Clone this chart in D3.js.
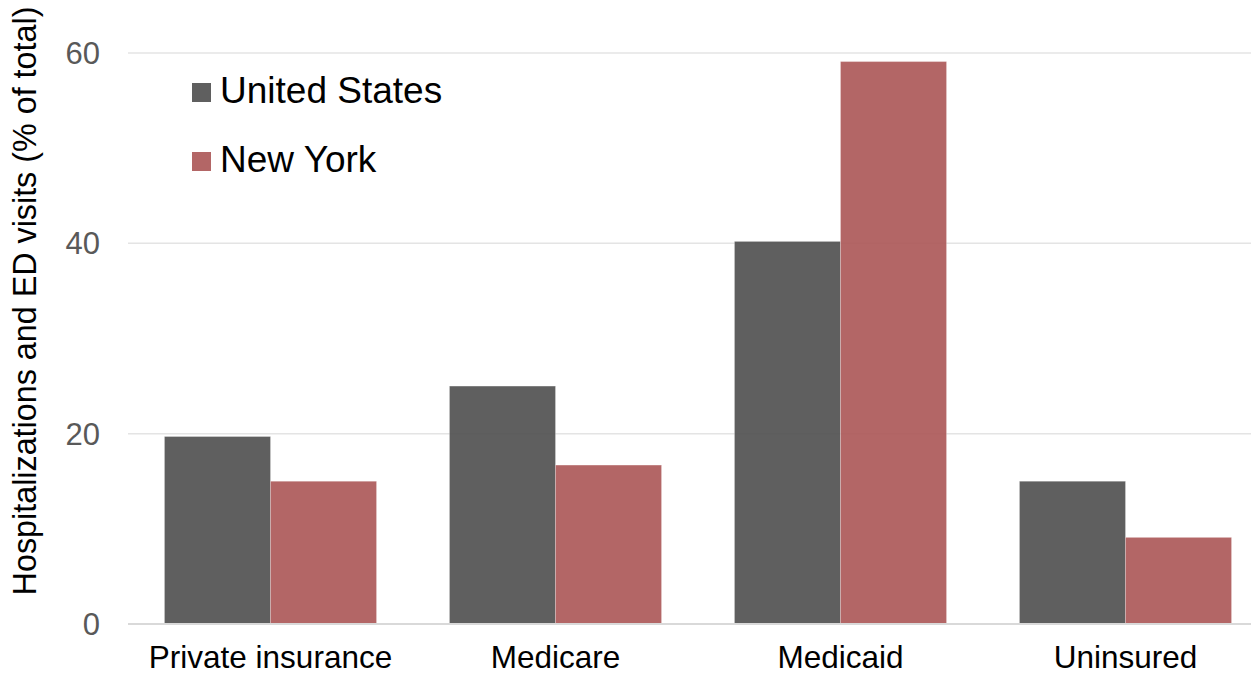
<!DOCTYPE html>
<html>
<head>
<meta charset="utf-8">
<script src="https://cdn.jsdelivr.net/npm/d3@7"></script>
<style>
  body { margin: 0; background: #fff; }
  svg { display: block; font-family: "Liberation Sans", Arial, sans-serif; }
  .grid line { stroke: #e4e4e4; stroke-width: 1.5; }
  .tick-label { fill: #595959; font-size: 31px; }
  .cat-label { fill: #000; font-size: 31.5px; }
  .legend-text { fill: #000; font-size: 37px; }
  .axis-title { fill: #000; font-size: 32.3px; }
</style>
</head>
<body>
<svg id="chart" width="1251" height="675"></svg>
<script>
const categories = ['Private insurance', 'Medicare', 'Medicaid', 'Uninsured'];
const seriesNames = ['United States', 'New York'];
const usValues = [19.7, 25.0, 40.2, 15.0];
const nyValues = [15.0, 16.7, 59.1, 9.1];
const yTicks = [0, 20, 40, 60];

const colors = { 'United States': '#4e4e4e', 'New York': '#ab5555' };
const W = 1251, H = 675;
const M = { LEFT: 128, TOP: 53, BOTTOM: 51 };

const svg = d3.select('#chart');

const y = d3.scaleLinear().domain([0, 60]).range([H - M.BOTTOM, M.TOP]);
const x = d3.scaleBand().domain(categories).range([M.LEFT, M.LEFT + 285 * 4]).padding(0);
const xInner = d3.scaleBand().domain(seriesNames).range([0, x.bandwidth()])
  .paddingInner(0).paddingOuter(0.344);

// gridlines
svg.append('g').attr('class', 'grid')
  .selectAll('line')
  .data(yTicks.filter(d => d > 0))
  .enter().append('line')
  .attr('x1', M.LEFT).attr('x2', W)
  .attr('y1', d => y(d)).attr('y2', d => y(d));

// tick labels
svg.append('g')
  .selectAll('text')
  .data(yTicks)
  .enter().append('text')
  .attr('class', 'tick-label')
  .attr('x', 100)
  .attr('y', d => y(d))
  .attr('dy', '0.36em')
  .attr('text-anchor', 'end')
  .text(d => d);

// bars
const rows = categories.map((c, i) => ({ cat: c, vals: [
  { s: 'United States', v: usValues[i] },
  { s: 'New York', v: nyValues[i] }
] }));

const groups = svg.append('g')
  .selectAll('g')
  .data(rows)
  .enter().append('g')
  .attr('transform', d => `translate(${x(d.cat)},0)`);

groups.selectAll('rect')
  .data(d => d.vals)
  .enter().append('rect')
  .attr('x', d => xInner(d.s))
  .attr('width', xInner.bandwidth())
  .attr('y', d => y(d.v))
  .attr('height', d => y(0) - y(d.v))
  .attr('fill', d => colors[d.s])
  .attr('fill-opacity', 0.9)
  .attr('stroke', '#fff')
  .attr('stroke-opacity', 0.25)
  .attr('stroke-width', 1);

// baseline
svg.append('line')
  .attr('x1', M.LEFT).attr('x2', W)
  .attr('y1', y(0)).attr('y2', y(0))
  .attr('stroke', '#d9d9d9').attr('stroke-width', 2);

// category labels
svg.append('g')
  .selectAll('text')
  .data(categories)
  .enter().append('text')
  .attr('class', 'cat-label')
  .attr('x', d => x(d) + x.bandwidth() / 2)
  .attr('y', 668)
  .attr('text-anchor', 'middle')
  .text(d => d);

// y axis title
svg.append('text')
  .attr('class', 'axis-title')
  .attr('transform', 'translate(36,301) rotate(-90)')
  .attr('text-anchor', 'middle')
  .text('Hospitalizations and ED visits (% of total)');

// legend
const legend = svg.append('g')
  .selectAll('g')
  .data(seriesNames)
  .enter().append('g')
  .attr('transform', (d, i) => `translate(192,${83 + i * 69})`);

legend.append('rect')
  .attr('width', 19).attr('height', 19)
  .attr('fill', d => colors[d]).attr('fill-opacity', 0.9);

legend.append('text')
  .attr('class', 'legend-text')
  .attr('x', 28)
  .attr('y', 20)
  .text(d => d);
</script>
</body>
</html>
